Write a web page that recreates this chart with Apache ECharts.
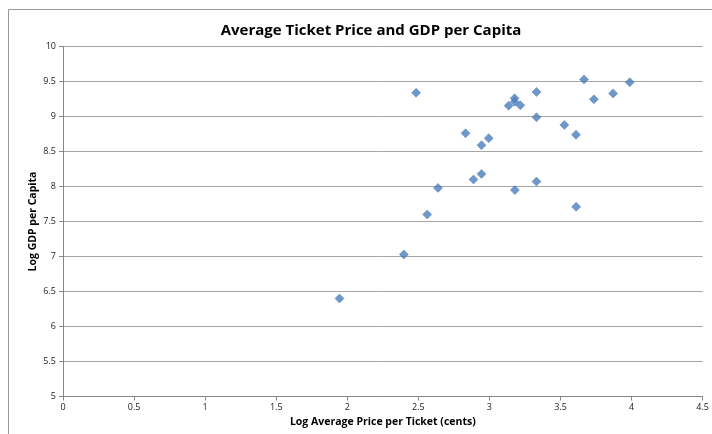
<!DOCTYPE html>
<html>
<head>
<meta charset="utf-8">
<script src="https://cdn.jsdelivr.net/npm/echarts@6/dist/echarts.min.js"></script>
<style>
  html, body { margin: 0; padding: 0; background: #fff; }
  #chart { width: 712px; height: 434px; }
</style>
</head>
<body>
<div id="chart"></div>
<script>
// Log of average ticket price (cents) for each country
const logPrice = [
  1.945, 2.398, 2.562, 2.638, 2.484, 2.832, 2.888, 2.944, 2.944, 2.995,
  3.135, 3.177, 3.177, 3.217, 3.179, 3.331, 3.331, 3.331, 3.527, 3.609,
  3.610, 3.665, 3.735, 3.870, 3.987
];
// Log of GDP per capita for the same countries
const logGdp = [
  6.40, 7.03, 7.60, 7.98, 9.34, 8.76, 8.10, 8.18, 8.59, 8.69,
  9.155, 9.26, 9.21, 9.16, 7.95, 9.35, 8.99, 8.07, 8.88, 8.74,
  7.71, 9.53, 9.245, 9.33, 9.49
];
const xTicks = [0, 0.5, 1, 1.5, 2, 2.5, 3, 3.5, 4, 4.5];
const yTicks = [5, 5.5, 6, 6.5, 7, 7.5, 8, 8.5, 9, 9.5, 10];

const points = logPrice.map((x, i) => [x, logGdp[i]]);
const fontFamily = 'Open Sans, Liberation Sans, sans-serif';

const chart = echarts.init(document.getElementById('chart'), null, { renderer: 'canvas' });
chart.setOption({
  animation: false,
  backgroundColor: '#fff',
  graphic: [{
    type: 'rect',
    shape: { x: 8.5, y: 9.5, width: 720, height: 440 },
    style: { fill: 'none', stroke: '#9a9a9a', lineWidth: 1 },
    silent: true,
    z: -1
  }],
  title: {
    text: 'Average Ticket Price and GDP per Capita',
    left: 366,
    textAlign: 'center',
    top: 18,
    textStyle: { fontFamily, fontSize: 15, fontWeight: 'bold', color: '#000' }
  },
  grid: { left: 63, right: 6, top: 46.5, bottom: 37.5 },
  xAxis: {
    type: 'value',
    min: xTicks[0],
    max: xTicks[xTicks.length - 1],
    interval: 0.5,
    name: 'Log Average Price per Ticket (cents)',
    nameLocation: 'middle',
    nameGap: 20,
    nameTextStyle: { fontFamily, fontSize: 10.5, fontWeight: 'bold', color: '#000' },
    axisLine: { show: true, lineStyle: { color: '#888', width: 1 } },
    axisTick: { show: true, length: 4, lineStyle: { color: '#888' } },
    axisLabel: { fontFamily, fontSize: 9, color: '#222', margin: 6,
      formatter: v => String(v) },
    splitLine: { show: false }
  },
  yAxis: {
    type: 'value',
    min: yTicks[0],
    max: yTicks[yTicks.length - 1],
    interval: 0.5,
    name: 'Log GDP per Capita',
    nameLocation: 'middle',
    nameGap: 24,
    nameMoveOverlap: false,
    nameTextStyle: { fontFamily, fontSize: 10.5, fontWeight: 'bold', color: '#000' },
    axisLine: { show: true, lineStyle: { color: '#888', width: 1 } },
    axisTick: { show: true, length: 4, lineStyle: { color: '#888' } },
    axisLabel: { fontFamily, fontSize: 9, color: '#222', margin: 7,
      formatter: v => String(v) },
    splitLine: { show: true, lineStyle: { color: '#a6a6a6', width: 1 } }
  },
  series: [{
    type: 'scatter',
    data: points,
    symbol: 'diamond',
    symbolSize: [9, 9],
    itemStyle: { color: '#4a7ebb', borderColor: '#3d6fa8', borderWidth: 0.5 }
  }]
});
</script>
</body>
</html>
